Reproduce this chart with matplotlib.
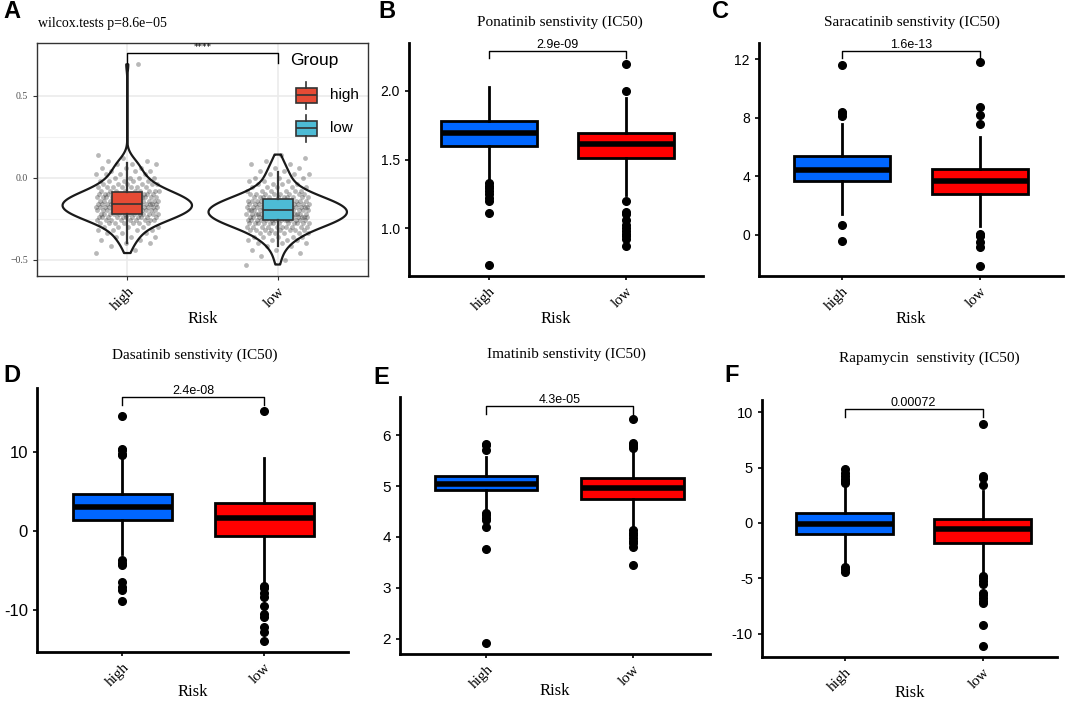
import numpy as np
import matplotlib.pyplot as plt

plt.style.use('default')

# ---- data ----
groups = ['high', 'low']

# panel A: risk score, read as value bins and number of samples per bin
a_high_vals = [-0.46, -0.44, -0.42, -0.40, -0.38, -0.36, -0.34, -0.32, -0.30, -0.28, -0.26,
               -0.24, -0.22, -0.20, -0.18, -0.16, -0.14, -0.12, -0.10, -0.08, -0.06, -0.04,
               -0.02, 0.00, 0.02, 0.04, 0.06, 0.08, 0.10, 0.12, 0.14, 0.69]
a_high_counts = [1, 1, 1, 2, 2, 3, 3, 4, 5, 7, 9, 11, 13, 14, 15, 15, 14, 13, 11, 9, 7, 6,
                 5, 4, 4, 3, 3, 3, 2, 1, 1, 1]
a_low_vals = [-0.53, -0.50, -0.48, -0.46, -0.44, -0.42, -0.40, -0.38, -0.36, -0.34, -0.32,
              -0.30, -0.28, -0.26, -0.24, -0.22, -0.20, -0.18, -0.16, -0.14, -0.12, -0.10,
              -0.08, -0.06, -0.04, -0.02, 0.00, 0.02, 0.04, 0.06, 0.08, 0.10, 0.12, 0.14]
a_low_counts = [1, 1, 1, 1, 2, 2, 3, 4, 5, 6, 8, 10, 12, 14, 15, 16, 16, 15, 14, 12, 10, 8,
                6, 5, 4, 3, 3, 3, 2, 2, 2, 1, 1, 1]
a_box = {'high': dict(q1=-0.22, med=-0.16, q3=-0.09, lo=-0.40, hi=0.09),
         'low': dict(q1=-0.26, med=-0.195, q3=-0.13, lo=-0.42, hi=0.035)}
a_colors = ['#E64B35', '#4DBBD5']

# panels B-F: box statistics (q1, median, q3, whisker low, whisker high) and outliers
drugs = ['Ponatinib senstivity (IC50)', 'Saracatinib senstivity (IC50)',
         'Dasatinib senstivity (IC50)', 'Imatinib senstivity (IC50)',
         'Rapamycin  senstivity (IC50)']
pvals = ['2.9e-09', '1.6e-13', '2.4e-08', '4.3e-05', '0.00072']

stats_high = [
    (1.60, 1.69, 1.78, 1.35, 2.03),
    (3.7, 4.4, 5.4, 1.4, 7.6),
    (1.4, 3.1, 4.7, -2.9, 9.5),
    (4.92, 5.05, 5.20, 4.52, 5.58),
    (-1.0, -0.1, 0.9, -3.8, 3.4),
]
stats_low = [
    (1.51, 1.61, 1.69, 1.24, 1.95),
    (2.8, 3.7, 4.5, 0.6, 6.7),
    (-0.6, 1.7, 3.6, -6.8, 9.3),
    (4.75, 4.97, 5.16, 4.15, 5.75),
    (-1.8, -0.5, 0.4, -4.5, 2.9),
]
out_high = [
    [1.33, 1.31, 1.29, 1.27, 1.25, 1.22, 1.20, 1.11, 0.73],
    [11.6, 8.4, 8.3, 8.1, 0.7, -0.4],
    [14.6, 10.4, 10.2, 9.8, 9.6, -3.7, -4.0, -4.3, -6.4, -7.1, -7.5, -8.9],
    [5.83, 5.80, 5.70, 4.47, 4.43, 4.38, 4.33, 4.19, 3.77, 1.92],
    [4.9, 4.5, 4.2, 4.0, 3.8, 3.6, -4.0, -4.2, -4.4],
]
out_low = [
    [2.20, 2.00, 1.20, 1.12, 1.10, 1.06, 1.02, 1.00, 0.98, 0.96, 0.94, 0.92, 0.87],
    [11.8, 8.7, 8.2, 7.6, 0.1, 0.0, -0.1, -0.5, -0.8, -2.1],
    [15.2, -6.9, -7.2, -7.8, -8.4, -9.5, -10.5, -10.9, -12.1, -12.8, -13.9],
    [6.31, 5.84, 5.80, 5.78, 5.75, 4.13, 4.08, 4.03, 3.98, 3.93, 3.88, 3.80, 3.45],
    [8.9, 4.2, 4.1, 3.4, -4.8, -5.0, -5.2, -5.5, -6.3, -6.5, -6.8, -7.0, -7.2, -9.2, -11.1],
]
yticks = [[1.0, 1.5, 2.0], [0, 4, 8, 12], [-10, 0, 10], [2, 3, 4, 5, 6], [-10, -5, 0, 5, 10]]
ylims = [(0.65, 2.35), (-2.8, 13.1), (-15.3, 18.1), (1.7, 6.75), (-12.1, 11.1)]
xlims = [(0.42, 2.56), (0.40, 2.60), (0.40, 2.59), (0.41, 2.53), (0.40, 2.54)]
ytick_size = [10, 10, 12, 11, 10.5]
box_colors = ['#0066FF', '#FF0000']

W, H = 1065, 702
serif = 'Liberation Serif'
sans = 'Liberation Sans'


def px_axes(fig, x0, y0, x1, y1):
    return fig.add_axes([x0 / W, 1 - y1 / H, (x1 - x0) / W, (y1 - y0) / H])


fig = plt.figure(figsize=(W / 100, H / 100), dpi=100)

# ---------------- panel A ----------------
ax = px_axes(fig, 37, 43, 368, 276)
ax.set_xlim(0.4, 2.6)
ax.set_ylim(-0.60, 0.82)
ax.set_yticks([-0.5, 0.0, 0.5])
ax.set_yticks([-0.25, 0.25], minor=True)
ax.set_xticks([1, 2])
ax.grid(True, which='major', color='#EBEBEB', lw=1.2)
ax.grid(True, which='minor', axis='y', color='#F2F2F2', lw=0.8)
ax.tick_params(axis='y', which='minor', length=0)
ax.set_axisbelow(True)
for s in ax.spines.values():
    s.set_color('#333333')
    s.set_linewidth(1.0)

a_high = np.repeat(a_high_vals, a_high_counts)
a_low = np.repeat(a_low_vals, a_low_counts)

vp = ax.violinplot([a_high, a_low], positions=[1, 2], widths=[0.86, 0.92],
                   showextrema=False, bw_method=0.28, points=300)
for b in vp['bodies']:
    b.set_facecolor('none')
    b.set_edgecolor('#1a1a1a')
    b.set_linewidth(1.6)
    b.set_alpha(1)

for i, vals in enumerate([a_high, a_low]):
    n = len(vals)
    # deterministic jitter
    jit = ((np.arange(n) * 0.618034) % 1 - 0.5) * 0.42
    ax.scatter(i + 1 + jit, vals, s=12, color='black', alpha=0.28, lw=0, zorder=2)

for i, g in enumerate(groups):
    st = a_box[g]
    ax.bxp([dict(med=st['med'], q1=st['q1'], q3=st['q3'], whislo=st['lo'],
                 whishi=st['hi'], fliers=[])],
           positions=[i + 1], widths=0.2, showcaps=False, patch_artist=True,
           boxprops=dict(facecolor=a_colors[i], edgecolor='#333333', lw=1.2),
           medianprops=dict(color='#333333', lw=1.2),
           whiskerprops=dict(color='#333333', lw=1.6), manage_ticks=False)

ax.plot([1, 1, 2, 2], [0.70, 0.76, 0.76, 0.70], color='black', lw=1)
ax.text(1.5, 0.765, '****', ha='center', va='bottom', fontsize=6.5)
ax.set_xticklabels(groups, rotation=45, ha='right', rotation_mode='anchor',
                   fontfamily=serif, fontsize=11)
for lab in ax.get_yticklabels():
    lab.set_fontfamily(serif)
    lab.set_fontsize(7)
    lab.set_color('#4D4D4D')
ax.tick_params(axis='both', which='major', color='#333333', length=3)
ax.set_xlabel('Risk', fontfamily=serif, fontsize=12, labelpad=-2)
fig.text(38 / W, 1 - 24 / H, 'wilcox.tests p=8.6e\u221205', fontfamily=serif, fontsize=10,
         va='center', ha='left')

# legend drawn with boxplot glyphs inside the panel
fig.text(290 / W, 1 - 61 / H, 'Group', fontfamily=sans, fontsize=12.5, va='center')
for i, g in enumerate(groups):
    lx = px_axes(fig, 292, 80 + i * 33, 320, 110 + i * 33)
    lx.set_xlim(0, 1)
    lx.set_ylim(0, 1)
    lx.axis('off')
    lx.bxp([dict(med=0.5, q1=0.25, q3=0.75, whislo=0.05, whishi=0.95, fliers=[])],
           positions=[0.5], widths=0.75, showcaps=False, patch_artist=True,
           boxprops=dict(facecolor=a_colors[i], edgecolor='#333333', lw=1.2),
           medianprops=dict(color='#333333', lw=1.2),
           whiskerprops=dict(color='#333333', lw=1.2), manage_ticks=False)
    fig.text(330 / W, 1 - (95 + i * 33) / H, g, fontfamily=sans, fontsize=11, va='center')

# ---------------- panels B-F ----------------
rects = [(409, 43, 703, 276), (759, 43, 1063, 276),
         (37, 388, 348, 652), (400, 397, 710, 654), (762, 400, 1057, 657)]
title_pos = [(560, 22), (912, 22), (195, 355), (566, 354), (929, 358)]
xlabel_pad = [-2, -2, -4, -6, -7]

for k in range(5):
    ax = px_axes(fig, *rects[k])
    bstats = []
    for st, fl in [(stats_high[k], out_high[k]), (stats_low[k], out_low[k])]:
        bstats.append(dict(q1=st[0], med=st[1], q3=st[2], whislo=st[3], whishi=st[4],
                           fliers=fl))
    bp = ax.bxp(bstats, positions=[1, 2], widths=0.7, showcaps=False, patch_artist=True,
                boxprops=dict(edgecolor='black', lw=2),
                medianprops=dict(color='black', lw=4, solid_capstyle='butt'),
                whiskerprops=dict(color='black', lw=2),
                flierprops=dict(marker='o', markerfacecolor='black',
                                markeredgecolor='black', markersize=5.5))
    for patch, c in zip(bp['boxes'], box_colors):
        patch.set_facecolor(c)
    ax.set_xlim(*xlims[k])
    ax.set_ylim(*ylims[k])
    ax.set_yticks(yticks[k])
    ax.set_yticklabels([f'{v:g}' if k != 0 else f'{v:.1f}' for v in yticks[k]])
    for s in ['top', 'right']:
        ax.spines[s].set_visible(False)
    for s in ['left', 'bottom']:
        ax.spines[s].set_linewidth(2)
    ax.tick_params(axis='both', width=1.2, length=3)
    for lab in ax.get_yticklabels():
        lab.set_fontfamily(sans)
        lab.set_fontsize(ytick_size[k])
    ax.set_xticklabels(groups, rotation=45, ha='right', rotation_mode='anchor',
                       fontfamily=serif, fontsize=11)
    ax.set_xlabel('Risk', fontfamily=serif, fontsize=12, labelpad=xlabel_pad[k])

    # significance bracket
    y0, y1 = ylims[k]
    top = y1 - (y1 - y0) * 0.035
    drop = (y1 - y0) * 0.03
    ax.plot([1, 1, 2, 2], [top - drop, top, top, top - drop], color='black', lw=1)
    ax.text(1.5, top, pvals[k], ha='center', va='bottom', fontfamily=sans, fontsize=9)

    tx, ty = title_pos[k]
    fig.text(tx / W, 1 - ty / H, drugs[k], fontfamily=serif, fontsize=11,
             ha='center', va='center')

# panel letters
for letter, x, y in [('A', 3, 12), ('B', 378, 12), ('C', 712, 12),
                     ('D', 3, 376), ('E', 373, 377), ('F', 724, 375)]:
    fig.text(x / W, 1 - y / H, letter, fontfamily=sans, fontsize=17, fontweight='bold',
             va='center', ha='left')

fig.savefig('out.png', dpi=100)
